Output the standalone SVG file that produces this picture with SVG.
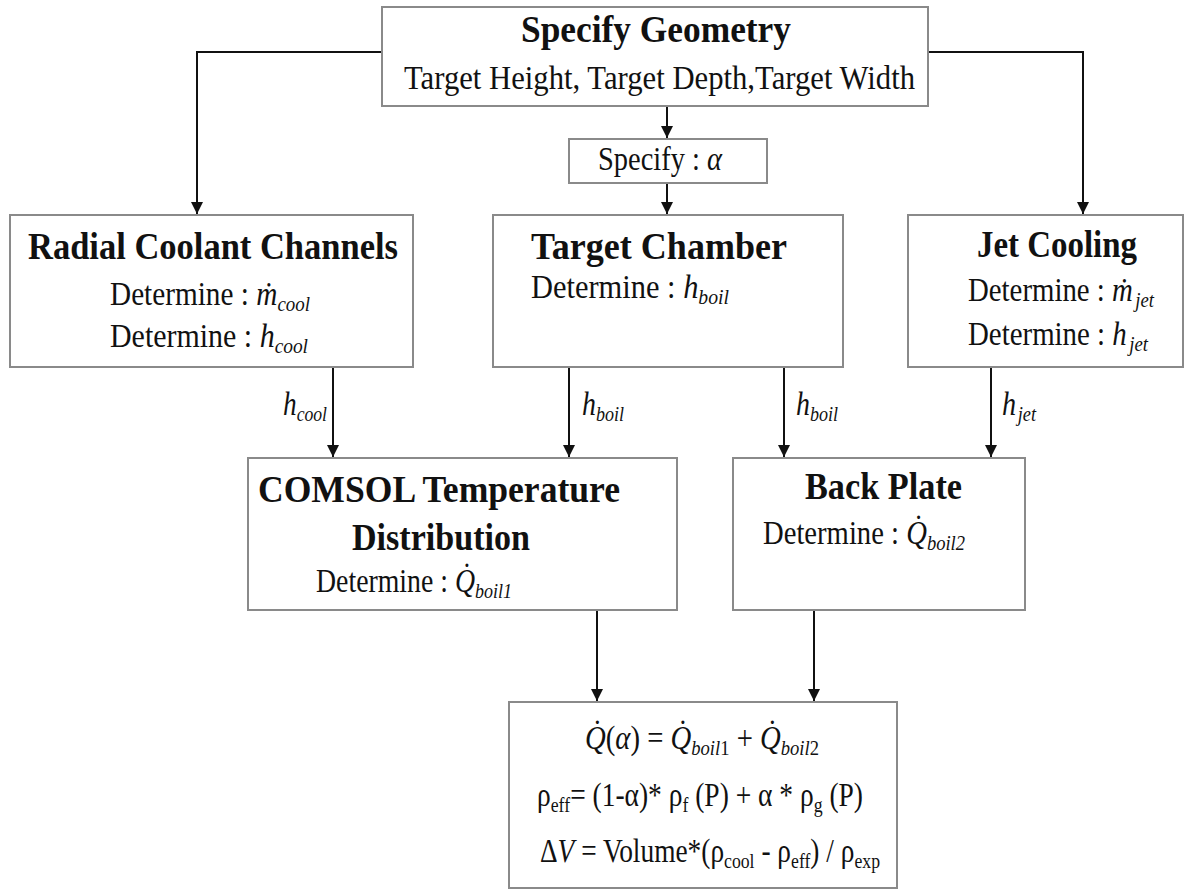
<svg xmlns="http://www.w3.org/2000/svg" width="1190" height="890" viewBox="0 0 1190 890" font-family="'Liberation Serif', 'Times New Roman', serif">
<defs>
<marker id="ah" markerUnits="userSpaceOnUse" markerWidth="14" markerHeight="14" refX="12" refY="6" orient="auto">
<path d="M0,0 L12,6 L0,12 Z" fill="#111"/>
</marker>
<style>
.box{fill:#fff;stroke:#8a8a8a;stroke-width:2}
.con{fill:none;stroke:#111;stroke-width:2;marker-end:url(#ah)}
text{font-family:"Liberation Serif","Times New Roman",serif;fill:#111}
.t{font-weight:bold;font-size:38px}
.r{font-size:34px}
.i{font-style:italic}
.s{font-size:22px;font-style:italic}
.lab{font-size:34px}
.f{font-size:34px}
.u{font-size:22px}
</style>
</defs>
<rect width="1190" height="890" fill="#fff"/>

<g id="connectors">
<polyline class="con" points="382,52 197,52 197,214"/>
<polyline class="con" points="928,52 1083,52 1083,214"/>
<line class="con" x1="667" y1="106" x2="667" y2="138"/>
<line class="con" x1="667" y1="183" x2="667" y2="214"/>
<line class="con" x1="333" y1="367" x2="333" y2="457"/>
<line class="con" x1="569" y1="367" x2="569" y2="457"/>
<line class="con" x1="784" y1="367" x2="784" y2="457"/>
<line class="con" x1="991" y1="367" x2="991" y2="457"/>
<line class="con" x1="597" y1="610" x2="597" y2="701"/>
<line class="con" x1="814" y1="610" x2="814" y2="701"/>
<text class="lab" x="283" y="415" textLength="44" lengthAdjust="spacingAndGlyphs"><tspan class="i">h</tspan><tspan class="s" dy="6">cool</tspan></text>
<text class="lab" x="582" y="415" textLength="42" lengthAdjust="spacingAndGlyphs"><tspan class="i">h</tspan><tspan class="s" dy="6">boil</tspan></text>
<text class="lab" x="796" y="415" textLength="42" lengthAdjust="spacingAndGlyphs"><tspan class="i">h</tspan><tspan class="s" dy="6">boil</tspan></text>
<text class="lab" x="1002" y="415" textLength="34" lengthAdjust="spacingAndGlyphs"><tspan class="i">h</tspan><tspan class="s" dx="2" dy="6">jet</tspan></text>
</g>

<g id="geometry">
<rect class="box" x="382" y="7" width="546" height="99"/>
<text class="t" x="521" y="42" textLength="270" lengthAdjust="spacingAndGlyphs">Specify Geometry</text>
<text class="r" x="404" y="89" textLength="511" lengthAdjust="spacingAndGlyphs">Target Height, Target Depth,Target Width</text>
</g>

<g id="alpha">
<rect class="box" x="569" y="139" width="198" height="44"/>
<text class="r" x="598" y="170" font-size="29" textLength="124" lengthAdjust="spacingAndGlyphs">Specify : <tspan class="i">α</tspan></text>
</g>

<g id="radial">
<rect class="box" x="10" y="215" width="403" height="152"/>
<text class="t" x="28" y="259" textLength="370" lengthAdjust="spacingAndGlyphs">Radial Coolant Channels</text>
<text class="r" x="110" y="305" textLength="200" lengthAdjust="spacingAndGlyphs">Determine : <tspan class="i">ṁ</tspan><tspan class="s" dy="6">cool</tspan></text>
<text class="r" x="110" y="347" textLength="198" lengthAdjust="spacingAndGlyphs">Determine : <tspan class="i">h</tspan><tspan class="s" dy="6">cool</tspan></text>
</g>

<g id="chamber">
<rect class="box" x="493" y="215" width="350" height="152"/>
<text class="t" x="531" y="259" textLength="256" lengthAdjust="spacingAndGlyphs">Target Chamber</text>
<text class="r" x="531" y="298" textLength="198" lengthAdjust="spacingAndGlyphs">Determine : <tspan class="i">h</tspan><tspan class="s" dy="6">boil</tspan></text>
</g>

<g id="jet">
<rect class="box" x="908" y="215" width="275" height="152"/>
<text class="t" x="977" y="257" textLength="160" lengthAdjust="spacingAndGlyphs">Jet Cooling</text>
<text class="r" x="968" y="301" textLength="186" lengthAdjust="spacingAndGlyphs">Determine : <tspan class="i">ṁ</tspan><tspan class="s" dx="3" dy="6">jet</tspan></text>
<text class="r" x="968" y="345" textLength="180" lengthAdjust="spacingAndGlyphs">Determine : <tspan class="i">h</tspan><tspan class="s" dx="3" dy="6">jet</tspan></text>
</g>

<g id="comsol">
<rect class="box" x="248" y="458" width="429" height="152"/>
<text class="t" x="258" y="502" textLength="362" lengthAdjust="spacingAndGlyphs">COMSOL Temperature</text>
<text class="t" x="352" y="550" textLength="178" lengthAdjust="spacingAndGlyphs">Distribution</text>
<text class="r" x="316" y="592" textLength="196" lengthAdjust="spacingAndGlyphs">Determine : <tspan class="i">Q̇</tspan><tspan class="s" dy="6">boil1</tspan></text>
</g>

<g id="backplate">
<rect class="box" x="733" y="458" width="292" height="152"/>
<text class="t" x="805" y="499" textLength="157" lengthAdjust="spacingAndGlyphs">Back Plate</text>
<text class="r" x="763" y="544" textLength="202" lengthAdjust="spacingAndGlyphs">Determine : <tspan class="i">Q̇</tspan><tspan class="s" dy="6">boil2</tspan></text>
</g>

<g id="result">
<rect class="box" x="509" y="702" width="388" height="186"/>
<text class="f" x="585" y="749" font-size="36" textLength="234" lengthAdjust="spacingAndGlyphs"><tspan class="i">Q̇</tspan>(<tspan class="i">α</tspan>) = <tspan class="i">Q̇</tspan><tspan class="s" dy="6">boil</tspan><tspan class="u">1</tspan><tspan dy="-6"> + </tspan><tspan class="i">Q̇</tspan><tspan class="s" dy="6">boil</tspan><tspan class="u">2</tspan></text>
<text class="f" x="537" y="806" textLength="326" lengthAdjust="spacingAndGlyphs">ρ<tspan class="u" dy="6">eff</tspan><tspan dy="-6">= (1-α)* ρ</tspan><tspan class="u" dy="6">f</tspan><tspan dy="-6"> (P) + α * ρ</tspan><tspan class="u" dy="6">g</tspan><tspan dy="-6"> (P)</tspan></text>
<text class="f" x="540" y="862" textLength="340" lengthAdjust="spacingAndGlyphs">Δ<tspan class="i">V</tspan> = Volume*(ρ<tspan class="u" dy="6">cool</tspan><tspan dy="-6"> - ρ</tspan><tspan class="u" dy="6">eff</tspan><tspan dy="-6">) / ρ</tspan><tspan class="u" dy="6">exp</tspan></text>
</g>
</svg>
